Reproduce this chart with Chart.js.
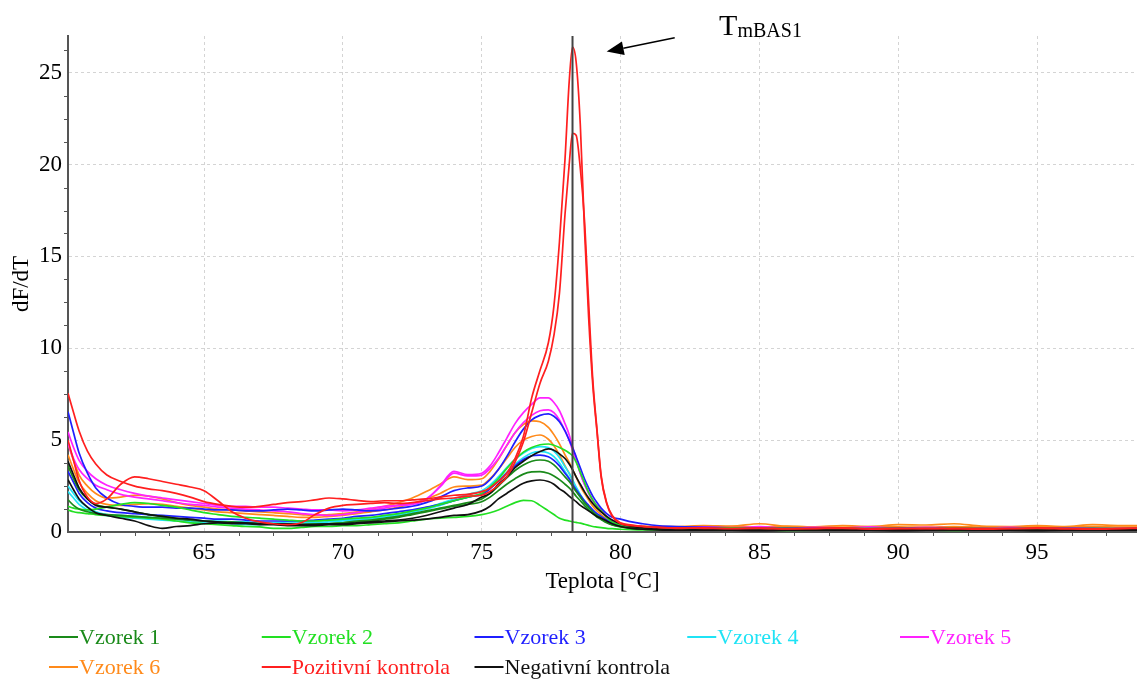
<!DOCTYPE html>
<html>
<head>
<meta charset="utf-8">
<script src="https://cdn.jsdelivr.net/npm/chart.js@4.4.1/dist/chart.umd.min.js"></script>
<style>
html,body{margin:0;padding:0;background:#fff;overflow:hidden}
#wrap{position:relative;width:1137px;height:679px}
</style>
</head>
<body>
<div id="wrap"><canvas id="c" width="1137" height="679"></canvas></div>
<script>
// ---- temperature axis (°C) ----
const temps = [60.1,60.3,60.5,60.8,61.1,61.5,
 62,62.5,63,63.5,64,64.5,65,65.5,66,66.5,67,67.5,68,68.5,69,69.5,70,70.5,71,71.5,72,72.5,73,73.5,74,74.5,
 75,75.3,75.6,75.9,76.2,76.5,76.8,77.1,77.4,77.6,77.8,78,
 78.15,78.27,78.4,78.55,78.7,78.85,79,79.15,79.3,79.5,79.7,80,80.4,80.8,81.3,
 82,83,84,85,86,87,88,89,90,91,92,93,94,95,96,97,98,98.6];

// ---- dF/dT values, two replicates per sample ----
const vzorek1_a = [3.6,2.9,2.3,1.8,1.5,1.35,
 1.25,1.1,0.95,0.85,0.75,0.65,0.6,0.55,0.55,0.5,0.45,0.45,0.4,0.4,0.4,0.45,0.5,0.6,0.65,0.75,0.85,1.0,1.15,1.3,1.45,1.6,
 1.8,2.1,2.5,2.95,3.35,3.65,3.85,3.92,3.85,3.65,3.35,3.0,
 2.75,2.5,2.2,1.9,1.6,1.35,1.1,0.9,0.75,0.55,0.4,0.3,0.22,0.18,0.15,
 0.14,0.12,0.15,0.13,0.12,0.14,0.12,0.15,0.13,0.12,0.14,0.13,0.12,0.15,0.13,0.12,0.14,0.13];
const vzorek1_b = [1.75,1.45,1.25,1.1,1.0,0.95,
 0.9,0.85,0.8,0.75,0.7,0.65,0.6,0.55,0.5,0.5,0.45,0.45,0.4,0.4,0.45,0.45,0.5,0.55,0.6,0.7,0.8,0.95,1.1,1.25,1.4,1.5,
 1.65,1.9,2.25,2.6,2.9,3.15,3.27,3.29,3.2,3.05,2.85,2.6,
 2.4,2.2,1.95,1.7,1.45,1.2,1.0,0.82,0.68,0.5,0.38,0.28,0.2,0.16,0.14,
 0.12,0.13,0.11,0.14,0.12,0.1,0.13,0.12,0.11,0.14,0.12,0.13,0.11,0.12,0.14,0.12,0.11,0.12];
const vzorek2_a = [1.4,1.3,1.25,1.2,1.25,1.35,
 1.5,1.6,1.55,1.45,1.35,1.2,1.05,0.95,0.85,0.8,0.75,0.7,0.65,0.6,0.6,0.65,0.7,0.75,0.8,0.9,1.0,1.15,1.3,1.5,1.7,1.9,
 2.1,2.45,2.9,3.45,3.95,4.35,4.6,4.75,4.79,4.72,4.6,4.45,
 4.3,4.15,3.8,3.25,2.7,2.15,1.75,1.4,1.15,0.8,0.55,0.4,0.3,0.25,0.22,
 0.2,0.18,0.22,0.19,0.2,0.17,0.21,0.19,0.2,0.18,0.22,0.2,0.19,0.21,0.18,0.2,0.19,0.2];
const vzorek2_b = [1.2,1.1,1.05,1.0,0.95,0.9,
 0.85,0.8,0.75,0.7,0.6,0.5,0.45,0.4,0.35,0.3,0.28,0.2,0.2,0.25,0.3,0.3,0.35,0.35,0.4,0.45,0.5,0.6,0.7,0.75,0.8,0.85,
 0.95,1.05,1.2,1.4,1.6,1.72,1.7,1.45,1.15,0.95,0.75,0.65,
 0.6,0.56,0.52,0.48,0.42,0.36,0.3,0.27,0.24,0.2,0.18,0.15,0.13,0.12,0.12,
 0.1,0.12,0.1,0.11,0.09,0.1,0.12,0.1,0.11,0.1,0.09,0.11,0.1,0.12,0.1,0.11,0.1,0.1];
const vzorek3_a = [6.55,5.4,4.3,3.2,2.4,1.85,
 1.5,1.4,1.35,1.35,1.3,1.3,1.25,1.2,1.2,1.15,1.15,1.2,1.25,1.2,1.15,1.2,1.25,1.2,1.15,1.2,1.3,1.4,1.6,1.9,2.25,2.4,
 2.5,2.85,3.4,4.1,4.9,5.6,6.1,6.35,6.43,6.3,6.0,5.5,
 5.0,4.6,4.1,3.5,2.9,2.4,1.95,1.6,1.3,1.0,0.8,0.7,0.55,0.45,0.35,
 0.3,0.25,0.22,0.2,0.22,0.18,0.2,0.17,0.21,0.19,0.2,0.18,0.16,0.19,0.2,0.18,0.17,0.19];
const vzorek3_b = [3.3,2.7,2.1,1.6,1.3,1.15,
 1.05,1.0,0.95,0.9,0.85,0.8,0.75,0.7,0.7,0.65,0.6,0.6,0.6,0.6,0.65,0.7,0.75,0.85,0.9,1.0,1.1,1.2,1.35,1.5,1.7,1.9,
 2.05,2.35,2.75,3.2,3.6,3.95,4.15,4.19,4.1,3.9,3.6,3.2,
 2.9,2.6,2.3,2.0,1.7,1.45,1.2,1.0,0.85,0.65,0.5,0.4,0.32,0.28,0.25,
 0.22,0.2,0.18,0.2,0.17,0.19,0.16,0.18,0.2,0.17,0.18,0.16,0.19,0.17,0.18,0.2,0.16,0.18];
const vzorek4_a = [2.5,2.1,1.7,1.35,1.1,0.95,
 0.9,0.85,0.8,0.75,0.7,0.65,0.6,0.6,0.55,0.55,0.5,0.5,0.55,0.55,0.6,0.6,0.65,0.7,0.75,0.85,0.95,1.1,1.3,1.55,1.8,2.05,
 2.25,2.55,3.0,3.5,3.95,4.3,4.55,4.65,4.6,4.4,4.05,3.55,
 3.2,2.85,2.45,2.05,1.7,1.4,1.15,0.95,0.8,0.6,0.45,0.35,0.3,0.27,0.25,
 0.2,0.18,0.2,0.17,0.19,0.16,0.18,0.2,0.17,0.18,0.16,0.19,0.17,0.2,0.18,0.16,0.18,0.17];
const vzorek4_b = [2.2,1.85,1.5,1.2,1.0,0.9,
 0.8,0.75,0.7,0.65,0.6,0.55,0.5,0.45,0.45,0.4,0.4,0.45,0.45,0.5,0.5,0.55,0.6,0.65,0.7,0.8,0.9,1.05,1.25,1.45,1.7,1.9,
 2.1,2.4,2.8,3.25,3.7,4.05,4.3,4.37,4.3,4.1,3.75,3.3,
 2.95,2.6,2.25,1.9,1.6,1.3,1.05,0.88,0.72,0.55,0.42,0.33,0.28,0.25,0.23,
 0.18,0.16,0.17,0.15,0.18,0.16,0.15,0.17,0.16,0.18,0.15,0.16,0.17,0.15,0.16,0.18,0.15,0.16];
const vzorek5_a = [5.45,4.6,3.9,3.3,2.9,2.55,
 2.3,2.1,1.95,1.85,1.75,1.65,1.55,1.45,1.4,1.4,1.35,1.35,1.3,1.25,1.2,1.2,1.15,1.2,1.3,1.4,1.45,1.5,1.75,2.5,3.3,3.12,
 3.2,3.6,4.3,5.1,5.9,6.5,6.95,7.3,7.3,7.05,6.6,5.9,
 5.3,4.65,4.0,3.2,2.6,2.2,1.75,1.45,1.2,0.85,0.6,0.45,0.35,0.3,0.28,
 0.25,0.28,0.22,0.3,0.2,0.25,0.22,0.28,0.2,0.25,0.22,0.2,0.25,0.2,0.22,0.18,0.2,0.2];
const vzorek5_b = [4.8,4.0,3.4,2.9,2.55,2.3,
 2.05,1.9,1.8,1.7,1.6,1.5,1.45,1.35,1.3,1.25,1.2,1.15,1.1,1.0,0.95,0.9,0.95,1.05,1.2,1.3,1.45,1.55,1.8,2.45,3.2,3.05,
 3.1,3.45,4.0,4.7,5.4,5.95,6.35,6.6,6.65,6.5,6.1,5.5,
 5.0,4.45,3.9,3.2,2.6,2.1,1.7,1.4,1.15,0.8,0.55,0.42,0.33,0.28,0.26,
 0.22,0.2,0.24,0.2,0.18,0.22,0.2,0.19,0.23,0.2,0.18,0.21,0.2,0.19,0.22,0.2,0.18,0.2];
const vzorek6_a = [4.8,3.9,3.1,2.5,2.1,1.85,
 1.9,2.0,1.95,1.8,1.6,1.45,1.35,1.25,1.2,1.15,1.1,1.05,1.0,0.95,0.9,0.95,1.0,1.1,1.25,1.4,1.6,1.85,2.2,2.6,3.0,2.85,
 2.9,3.3,3.95,4.7,5.4,5.85,6.05,6.0,5.7,5.3,4.8,4.2,
 3.8,3.4,3.0,2.5,2.1,1.75,1.4,1.15,0.95,0.7,0.5,0.4,0.35,0.32,0.3,
 0.3,0.35,0.32,0.45,0.3,0.28,0.35,0.3,0.4,0.38,0.45,0.32,0.3,0.35,0.3,0.4,0.35,0.35];
const vzorek6_b = [4.2,3.4,2.7,2.1,1.7,1.5,
 1.45,1.5,1.55,1.5,1.4,1.3,1.2,1.1,1.05,1.0,0.95,0.9,0.85,0.8,0.8,0.85,0.9,1.0,1.1,1.2,1.35,1.55,1.8,2.1,2.45,2.5,
 2.55,2.9,3.4,4.0,4.6,5.0,5.2,5.28,5.05,4.7,4.2,3.6,
 3.2,2.8,2.4,2.0,1.65,1.35,1.1,0.9,0.75,0.55,0.42,0.35,0.3,0.28,0.26,
 0.25,0.28,0.3,0.26,0.32,0.27,0.25,0.3,0.28,0.26,0.3,0.27,0.25,0.28,0.26,0.3,0.27,0.26];
const pozitivni_a = [7.55,6.5,5.5,4.4,3.7,3.1,
 2.75,2.5,2.35,2.25,2.1,1.9,1.65,1.5,1.4,1.35,1.4,1.5,1.6,1.65,1.75,1.85,1.8,1.72,1.65,1.7,1.7,1.75,1.8,1.9,2.0,2.05,
 2.2,2.4,2.75,3.2,4.0,5.2,7.3,8.8,10.3,12.3,15.8,20.3,
 24.5,26.4,25.6,22.2,16.5,11.7,8.0,5.5,3.0,1.55,0.85,0.45,0.35,0.3,0.25,
 0.22,0.2,0.18,0.2,0.17,0.18,0.2,0.16,0.18,0.2,0.17,0.15,0.18,0.2,0.17,0.15,0.18,0.2];
const pozitivni_b = [5.0,3.9,2.8,1.9,1.55,1.8,
 2.6,3.0,2.9,2.75,2.6,2.45,2.25,1.7,1.1,0.75,0.55,0.45,0.4,0.5,0.95,1.3,1.45,1.5,1.55,1.6,1.55,1.6,1.7,1.8,1.85,1.95,
 2.0,2.2,2.55,3.0,3.8,4.9,6.5,8.1,9.3,10.7,13.0,17.3,
 20.0,21.7,21.6,19.8,17.0,12.5,8.3,5.6,3.1,1.6,0.9,0.5,0.38,0.3,0.26,
 0.2,0.22,0.19,0.21,0.18,0.2,0.22,0.19,0.2,0.18,0.21,0.2,0.19,0.22,0.2,0.18,0.2,0.21];
const negativni_a = [3.85,3.1,2.4,1.8,1.45,1.35,
 1.25,1.1,0.95,0.85,0.75,0.7,0.6,0.55,0.5,0.5,0.45,0.45,0.45,0.4,0.4,0.45,0.45,0.5,0.55,0.6,0.65,0.75,0.9,1.1,1.3,1.5,
 1.9,2.1,2.6,3.0,3.5,3.85,4.15,4.38,4.52,4.45,4.25,4.0,
 3.7,3.4,3.0,2.6,2.2,1.85,1.55,1.3,1.1,0.85,0.65,0.45,0.3,0.22,0.18,
 0.12,0.1,0.13,0.11,0.1,0.12,0.1,0.11,0.13,0.1,0.12,0.1,0.11,0.1,0.12,0.1,0.11,0.1];
const negativni_b = [2.85,2.3,1.8,1.35,1.05,0.9,
 0.75,0.6,0.35,0.2,0.3,0.35,0.45,0.5,0.45,0.45,0.4,0.4,0.35,0.35,0.35,0.4,0.4,0.45,0.5,0.55,0.6,0.65,0.7,0.8,0.9,0.95,
 1.15,1.4,1.8,2.1,2.4,2.65,2.78,2.83,2.75,2.6,2.35,2.15,
 1.95,1.8,1.65,1.45,1.3,1.15,1.0,0.85,0.75,0.6,0.45,0.3,0.2,0.15,0.12,
 0.1,0.12,0.1,0.08,0.1,0.12,0.1,0.1,0.08,0.1,0.12,0.1,0.1,0.08,0.1,0.1,0.1,0.12];

// ---- labels / ticks ----
const seriesNames = ['Vzorek 1','Vzorek 2','Vzorek 3','Vzorek 4','Vzorek 5','Vzorek 6','Pozitivní kontrola','Negativní kontrola'];
const seriesColors = ['#1a8a1a','#22e022','#1f1fff','#1fe3f5','#ff22ff','#ff8a1a','#ff1f1f','#111111'];
const seriesReps = [[vzorek1_a,vzorek1_b],[vzorek2_a,vzorek2_b],[vzorek3_a,vzorek3_b],[vzorek4_a,vzorek4_b],
  [vzorek5_a,vzorek5_b],[vzorek6_a,vzorek6_b],[pozitivni_a,pozitivni_b],[negativni_a,negativni_b]];
const xTicks = [65,70,75,80,85,90,95];
const yTicks = [0,5,10,15,20,25];
const tmValue = 78.27;
const tmLabelMain = 'T';
const tmLabelSub = 'mBAS1';

const FONT = '"Liberation Serif","Times New Roman",serif';
Chart.defaults.font.family = FONT;
Chart.defaults.color = '#000';

const datasets = [];
seriesReps.forEach((reps, g) => {
  reps.forEach(r => {
    datasets.push({
      label: seriesNames[g],
      data: r.map((y, i) => ({x: temps[i], y})),
      borderColor: seriesColors[g],
      backgroundColor: seriesColors[g],
      borderWidth: 1.7,
      pointRadius: 0,
      fill: false,
      cubicInterpolationMode: 'monotone',
      order: g === 6 ? 0 : (g === 7 ? 1 : 2)
    });
  });
});

const extrasPlugin = {
  id: 'extras',
  afterDatasetsDraw(chart) {
    const {ctx, chartArea, scales} = chart;
    const xs = scales.x;
    ctx.save();
    const px = xs.getPixelForValue(tmValue);
    ctx.strokeStyle = '#444';
    ctx.lineWidth = 2;
    ctx.beginPath();
    ctx.moveTo(px, chartArea.top);
    ctx.lineTo(px, chartArea.bottom);
    ctx.stroke();
    ctx.restore();
  },
  afterDraw(chart) {
    const {ctx, chartArea, scales} = chart;
    const xs = scales.x, ys = scales.y;
    ctx.save();
    // minor tick marks
    ctx.strokeStyle = '#555';
    ctx.lineWidth = 1;
    for (let v = 61.25; v < xs.max; v += 1.25) {
      if (Math.abs(v % 5) < 1e-6) continue;
      const p = Math.round(xs.getPixelForValue(v)) + 0.5;
      ctx.beginPath(); ctx.moveTo(p, chartArea.bottom); ctx.lineTo(p, chartArea.bottom + 4); ctx.stroke();
    }
    for (let v = 1.25; v < ys.max; v += 1.25) {
      if (Math.abs(v % 5) < 1e-6) continue;
      const p = Math.round(ys.getPixelForValue(v)) + 0.5;
      ctx.beginPath(); ctx.moveTo(chartArea.left - 4, p); ctx.lineTo(chartArea.left, p); ctx.stroke();
    }
    // Tm annotation arrow
    const tipX = xs.getPixelForValue(79.5), tipY = ys.getPixelForValue(26.15);
    const tailX = xs.getPixelForValue(81.95), tailY = ys.getPixelForValue(26.9);
    const ang = Math.atan2(tailY - tipY, tailX - tipX);
    const hl = 17, hw = 7;
    const bx = tipX + hl * Math.cos(ang), by = tipY + hl * Math.sin(ang);
    ctx.strokeStyle = '#000'; ctx.fillStyle = '#000'; ctx.lineWidth = 1.6;
    ctx.beginPath(); ctx.moveTo(bx, by); ctx.lineTo(tailX, tailY); ctx.stroke();
    ctx.beginPath();
    ctx.moveTo(tipX, tipY);
    ctx.lineTo(bx + hw * Math.sin(ang), by - hw * Math.cos(ang));
    ctx.lineTo(bx - hw * Math.sin(ang), by + hw * Math.cos(ang));
    ctx.closePath(); ctx.fill();
    // Tm label
    const tx = xs.getPixelForValue(83.55), ty = ys.getPixelForValue(27.05);
    ctx.textBaseline = 'alphabetic'; ctx.textAlign = 'left';
    ctx.font = '30px ' + FONT;
    ctx.fillText(tmLabelMain, tx, ty);
    const tw = ctx.measureText(tmLabelMain).width;
    ctx.font = '20px ' + FONT;
    ctx.fillText(tmLabelSub, tx + tw, ty + 2);
    // legend
    ctx.font = '22px ' + FONT;
    ctx.textBaseline = 'middle';
    seriesNames.forEach((name, i) => {
      const col = i % 5, row = Math.floor(i / 5);
      const x0 = 49 + col * 212.75, y = 637 + row * 30;
      ctx.strokeStyle = seriesColors[i]; ctx.lineWidth = 2;
      ctx.beginPath(); ctx.moveTo(x0, y); ctx.lineTo(x0 + 29, y); ctx.stroke();
      ctx.fillStyle = seriesColors[i];
      ctx.fillText(name, x0 + 30, y + 1);
    });
    ctx.restore();
  }
};

new Chart(document.getElementById('c'), {
  type: 'line',
  data: {datasets},
  options: {
    responsive: false,
    animation: false,
    devicePixelRatio: 1,
    layout: {padding: {top: 36, right: 0, bottom: 79, left: 0}},
    plugins: {legend: {display: false}, tooltip: {enabled: false}},
    scales: {
      x: {
        type: 'linear', min: 60.1, max: 98.6,
        afterBuildTicks: s => { s.ticks = xTicks.map(v => ({value: v})); },
        afterFit: s => { s.height = 68; },
        ticks: {font: {size: 23}, color: '#000', padding: 7, maxRotation: 0, callback: v => v},
        grid: {color: '#d4d4d4', lineWidth: 1, drawTicks: false},
        border: {display: true, color: '#555', width: 2, dash: [3, 3]},
        title: {display: true, text: 'Teplota [°C]', font: {size: 23}, color: '#000', padding: {top: 0, bottom: 4}}
      },
      y: {
        type: 'linear', min: 0, max: 27,
        afterBuildTicks: s => { s.ticks = yTicks.map(v => ({value: v})); },
        afterFit: s => { s.width = 68; },
        ticks: {font: {size: 23}, color: '#000', padding: 6, callback: v => v},
        grid: {color: '#d4d4d4', lineWidth: 1, drawTicks: false},
        border: {display: true, color: '#555', width: 2, dash: [3, 3]},
        title: {display: true, text: 'dF/dT', font: {size: 23}, color: '#000', padding: {top: 8, bottom: 0}}
      }
    }
  },
  plugins: [extrasPlugin]
});
</script>
</body>
</html>
